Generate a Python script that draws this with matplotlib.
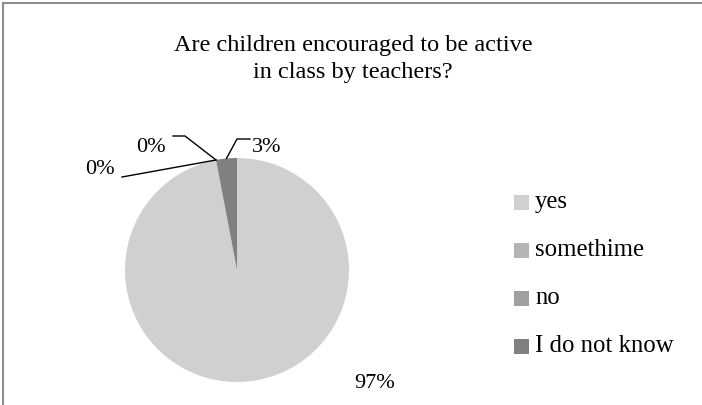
import numpy as np
import matplotlib.pyplot as plt
from matplotlib.patches import Rectangle

plt.rcParams['font.family'] = ['Liberation Serif', 'DejaVu Serif']

title = 'Are children encouraged to be active\nin class by teachers?'
categories = ['yes', 'somethime', 'no', 'I do not know']
values = [97, 0, 0, 3]
colors = ['#d0d0d0', '#b4b4b4', '#a0a0a0', '#808080']

W, H = 702, 405
fig = plt.figure(figsize=(W / 100, H / 100), dpi=100)
ax = fig.add_axes([0, 0, 1, 1])

cx, cy, r = 237, 270, 112
# y axis gets flipped below, so counterclock=True runs clockwise on screen
wedges, _ = ax.pie(values, colors=colors, startangle=-90, counterclock=True,
                   center=(cx, cy), radius=r, frame=True,
                   wedgeprops=dict(linewidth=0))
ax.set_xlim(0, W)
ax.set_ylim(H, 0)
ax.set_aspect('equal')
ax.axis('off')

# chart frame (only top and left edges fall inside the image)
ax.plot([2.5, W], [2.5, 2.5], color='#8c8c8c', lw=1.5)
ax.plot([2.5, 2.5], [2.5, H], color='#8c8c8c', lw=1.5)

ax.text(353, 59, title, ha='center', va='center', fontsize=17.5,
        linespacing=1.32, color='#000000')


def edge_point(w):
    ang = np.deg2rad((w.theta1 + w.theta2) / 2)
    return cx + r * np.cos(ang), cy + r * np.sin(ang)


pct = [f'{v:.0f}%' for v in values]
# label anchors and leader line elbows
label_xy = [(354, 383), (85, 170), (136, 147), (252, 147)]
elbows = [None, (122, 177), (185, 136), (237, 139)]
elbow_ends = [None, (122, 177), (173, 136), (250, 139)]

for i, w in enumerate(wedges):
    lx, ly = label_xy[i]
    ax.text(lx, ly, pct[i], ha='left', va='center', fontsize=16)
    if elbows[i] is not None:
        px, py = edge_point(w)
        ex, ey = elbows[i]
        fx, fy = elbow_ends[i]
        ax.plot([px, ex, fx], [py, ey, fy], color='black', lw=1)

# legend
leg_y = [202, 250, 298, 346]
for c, lab, y in zip(colors, categories, leg_y):
    ax.add_patch(Rectangle((514, y - 7.5), 15, 15, facecolor=c, edgecolor='none'))
    ax.text(535, y, lab, ha='left', va='center', fontsize=17.8)

fig.savefig('out.png', dpi=100)
